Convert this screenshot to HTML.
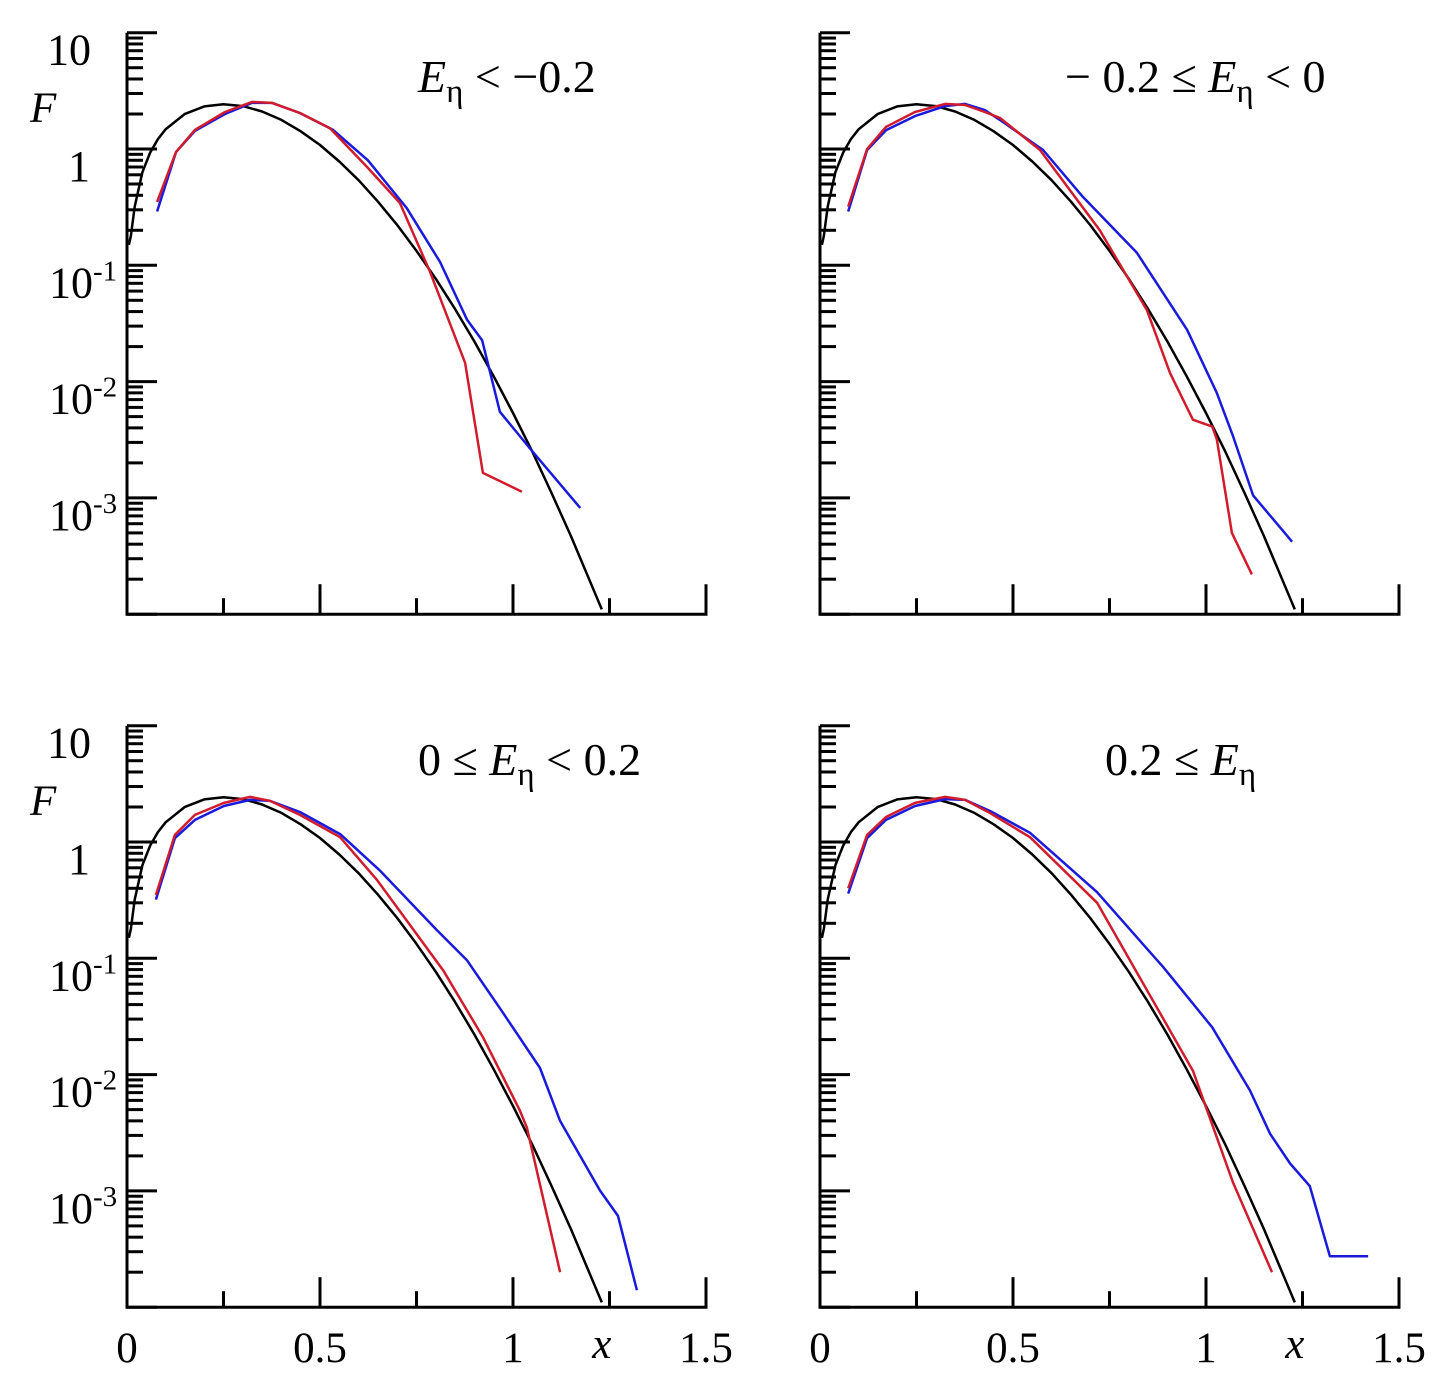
<!DOCTYPE html>
<html><head><meta charset="utf-8"><style>
html,body{margin:0;padding:0;background:#fff;}
svg{display:block;font-family:"Liberation Serif",serif;}
</style></head><body>
<svg id="fig" width="1444" height="1386" viewBox="0 0 1444 1386" xmlns="http://www.w3.org/2000/svg"></svg>
<script>
// Theoretical (black) curve samples
const blackX = [0.005,0.01,0.02,0.04,0.06,0.08,0.1,0.15,0.2,0.25,0.3,0.35,0.4,0.45,0.5,0.55,0.6,0.65,0.7,0.75,0.8,0.85,0.9,0.95,1.0,1.05,1.1,1.15,1.2,1.23];
const blackF = [0.15,0.18,0.32,0.632,0.933,1.216,1.477,2.005,2.324,2.426,2.336,2.102,1.779,1.42,1.083,0.78,0.539,0.353,0.222,0.133,0.0765,0.042,0.0221,0.0111,0.00537,0.0025,0.0011,0.00047,0.00019,0.00011];

// Panel 1: E < -0.2
const p1RedX = [0.078,0.127,0.176,0.254,0.324,0.376,0.448,0.526,0.622,0.707,0.785,0.876,0.922,1.023];
const p1RedF = [0.35,0.94,1.46,2.08,2.54,2.49,2.04,1.51,0.70,0.343,0.088,0.0145,0.00164,0.00113];
const p1BlueX = [0.078,0.127,0.176,0.254,0.324,0.376,0.448,0.534,0.624,0.725,0.811,0.881,0.92,0.966,1.044,1.174];
const p1BlueF = [0.29,0.94,1.43,2.0,2.49,2.49,2.04,1.46,0.80,0.31,0.107,0.034,0.0227,0.0055,0.00266,0.00082];
// Panel 2: -0.2 <= E < 0
const p2RedX = [0.073,0.122,0.171,0.246,0.324,0.376,0.427,0.466,0.57,0.725,0.847,0.907,0.966,1.016,1.028,1.067,1.119];
const p2RedF = [0.32,1.0,1.55,2.08,2.44,2.39,2.08,1.85,0.98,0.20,0.0412,0.0118,0.0047,0.0041,0.0032,0.0005,0.00022];
const p2BlueX = [0.073,0.122,0.171,0.246,0.324,0.376,0.427,0.466,0.578,0.681,0.821,0.951,1.028,1.07,1.122,1.223];
const p2BlueF = [0.29,0.98,1.45,1.92,2.34,2.44,2.16,1.78,0.98,0.387,0.128,0.0279,0.0080,0.0034,0.00105,0.00042];
// Panel 3: 0 <= E < 0.2
const p3RedX = [0.075,0.124,0.176,0.251,0.319,0.37,0.448,0.552,0.648,0.819,0.922,1.018,1.036,1.122];
const p3RedF = [0.35,1.15,1.71,2.17,2.44,2.26,1.71,1.1,0.47,0.079,0.021,0.0049,0.0035,0.0002];
const p3BlueX = [0.075,0.124,0.176,0.251,0.319,0.37,0.448,0.552,0.655,0.803,0.881,0.974,1.07,1.122,1.225,1.272,1.321];
const p3BlueF = [0.32,1.08,1.55,2.04,2.3,2.26,1.81,1.17,0.57,0.174,0.096,0.034,0.0114,0.0040,0.00101,0.00061,0.00014];
// Panel 4: 0.2 <= E
const p4RedX = [0.073,0.122,0.171,0.246,0.324,0.376,0.44,0.544,0.718,0.966,1.07,1.171];
const p4RedF = [0.40,1.15,1.64,2.17,2.44,2.3,1.78,1.1,0.30,0.0108,0.00118,0.0002];
const p4BlueX = [0.073,0.122,0.171,0.246,0.324,0.376,0.44,0.544,0.718,0.889,1.016,1.114,1.166,1.218,1.269,1.321,1.42];
const p4BlueF = [0.36,1.08,1.55,2.04,2.34,2.3,1.85,1.2,0.37,0.084,0.0255,0.0073,0.0031,0.00172,0.0011,0.000274,0.000274];

const yTickExps = [1,0,-1,-2,-3];
const xTickLabels = ["0","0.5","1","1.5"];
const xTickVals = [0,0.5,1,1.5];

const NS = "http://www.w3.org/2000/svg";
const svg = document.getElementById("fig");
function mk(tag, attrs, parent) {
  const e = document.createElementNS(NS, tag);
  for (const k in attrs) e.setAttribute(k, attrs[k]);
  (parent || svg).appendChild(e);
  return e;
}
const panels = [
  {x0:127, y1:149, name:"panel-e-lt-m02", title:[["E",1],["η",2],[" < −0.2",0]], tx:418, ty:92, ylab:true, xlab:false, red:[p1RedX,p1RedF], blue:[p1BlueX,p1BlueF]},
  {x0:820, y1:149, name:"panel-e-m02-0", title:[["− 0.2 ≤ ",0],["E",1],["η",2],[" < 0",0]], tx:1065, ty:92, ylab:false, xlab:false, red:[p2RedX,p2RedF], blue:[p2BlueX,p2BlueF]},
  {x0:127, y1:842, name:"panel-e-0-02", title:[["0 ≤ ",0],["E",1],["η",2],[" < 0.2",0]], tx:418, ty:775, ylab:true, xlab:true, red:[p3RedX,p3RedF], blue:[p3BlueX,p3BlueF]},
  {x0:820, y1:842, name:"panel-e-ge-02", title:[["0.2 ≤ ",0],["E",1],["η",2]], tx:1105, ty:775, ylab:false, xlab:true, red:[p4RedX,p4RedF], blue:[p4BlueX,p4BlueF]}
];
const XS = 386, DEC = 116.3;
panels.forEach(p => {
  const g = mk("g", {});
  
  
  const sx = v => p.x0 + v * XS;
  const sy = f => p.y1 - DEC * Math.log10(f);
  const yTop = sy(10), yBot = sy(1e-4);
  const cid = "c" + p.name;
  const cp = mk("clipPath", {id: cid}, g);
  mk("rect", {x: p.x0, y: yTop - 5, width: XS * 1.5, height: yBot - yTop + 5}, cp);
  for (let e = -4; e <= 0; e++) {
    for (let k = 1; k <= 9; k++) {
      const v = k * Math.pow(10, e);
      const y = sy(v);
      const t = mk("line", {x1: p.x0, x2: p.x0 + (k === 1 ? 30 : 16), y1: y, y2: y, stroke: "#000", "stroke-width": 3}, g);
      
      
    }
  }
  const tt = mk("line", {x1: p.x0, x2: p.x0 + 30, y1: yTop, y2: yTop, stroke: "#000", "stroke-width": 3}, g);
  
  
  [0.25,0.5,0.75,1,1.25].forEach(v => {
    const major = (v === 0.5 || v === 1);
    const t = mk("line", {x1: sx(v), x2: sx(v), y1: yBot, y2: yBot - (major ? 30 : 16), stroke: "#000", "stroke-width": 3}, g);
    
    
  });
  const ax = mk("path", {d: `M${p.x0},${yTop} L${p.x0},${yBot} L${sx(1.5)},${yBot} L${sx(1.5)},${yBot-30}`, fill: "none", stroke: "#000", "stroke-width": 3}, g);
  
  
  const line = (X, F, col, nm, w) => {
    const d = X.map((x, i) => (i ? "L" : "M") + sx(x).toFixed(1) + "," + sy(F[i]).toFixed(1)).join(" ");
    const l = mk("path", {d: d, fill: "none", stroke: col, "stroke-width": w, "stroke-linejoin": "round", "clip-path": `url(#${cid})`}, g);
    
    
  };
  line(blackX, blackF, "#000", "theory-curve", 2.5);
  line(p.blue[0], p.blue[1], "#1a1adc", "blue-series", 2.5);
  line(p.red[0], p.red[1], "#d01c2c", "red-series", 2.5);
  const t = mk("text", {x: p.tx, y: p.ty, "font-size": 46}, g);
  
  
  p.title.forEach(([s, st]) => {
    const ts = mk("tspan", {}, t);
    if (st === 1) ts.setAttribute("font-style", "italic");
    if (st === 2) { ts.setAttribute("font-size", 33); ts.setAttribute("dy", 10); }
    else if (p._sub) { ts.setAttribute("dy", -10); }
    p._sub = (st === 2);
    ts.textContent = s;
  });
  if (p.ylab) {
    const fl = mk("text", {x: 30, y: p.y1 - 27, "font-size": 43, "font-style": "italic"}, g);
    
    
    fl.textContent = "F";
    yTickExps.forEach(e => {
      const y = sy(Math.pow(10, e)) + 32;
      const tx = mk("text", {x: e < 0 ? 93 : (e === 0 ? 90 : 91), y: y, "font-size": 44, "text-anchor": "end"}, g);
      
      
      if (e === 1) tx.textContent = "10";
      else if (e === 0) tx.textContent = "1";
      else {
        tx.textContent = "10";
        const sup = mk("text", {x: 93, y: y - 17, "font-size": 29}, g);
        
        
        sup.textContent = String(e);
      }
    });
  }
  if (p.xlab) {
    xTickVals.forEach((v, i) => {
      const tx = mk("text", {x: sx(v), y: 1362, "font-size": 43, "text-anchor": "middle"}, g);
      
      
      tx.textContent = xTickLabels[i];
    });
    const xl = mk("text", {x: sx(1.23), y: 1358, "font-size": 43, "font-style": "italic", "text-anchor": "middle"}, g);
    
    
    xl.textContent = "x";
  }
});
</script>
</body></html>
